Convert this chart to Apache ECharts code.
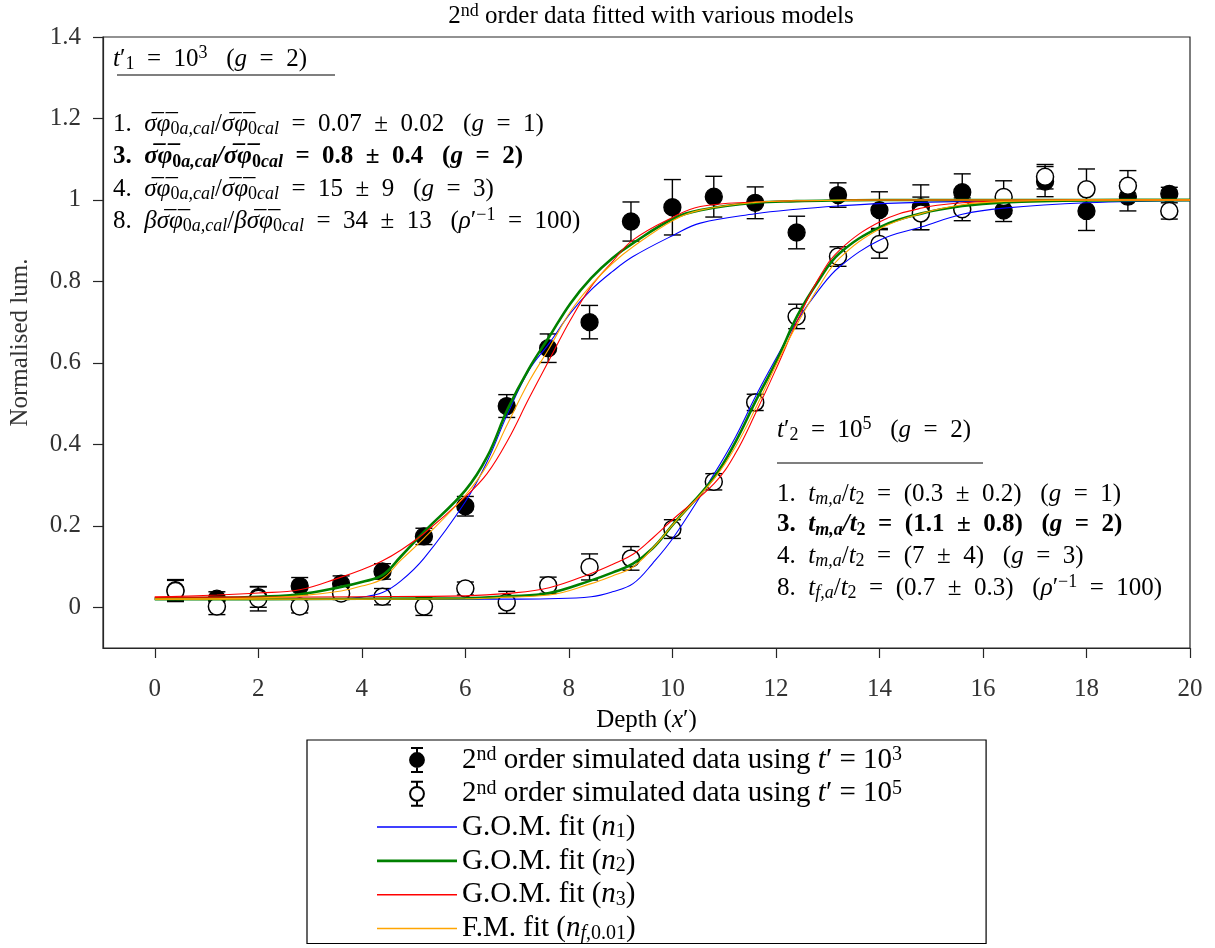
<!DOCTYPE html>
<html><head><meta charset="utf-8">
<script src="https://cdn.jsdelivr.net/npm/echarts@6/dist/echarts.min.js"></script>
<style>html,body{margin:0;padding:0;background:#fff}#c{width:1215px;height:948px}</style>
</head><body><div id="c"></div>
<script>
// ---------------- data ----------------
const depthX = [0.4,1.2,2.0,2.8,3.6,4.4,5.2,6.0,6.8,7.6,8.4,9.2,10.0,10.8,11.6,12.4,13.2,14.0,14.8,15.6,16.4,17.2,18.0,18.8,19.6];
const lum1 = [0.042,0.021,0.025,0.052,0.058,0.088,0.174,0.248,0.494,0.636,0.700,0.947,0.982,1.008,0.993,0.920,1.012,0.975,0.982,1.019,0.974,1.045,0.973,1.008,1.015];
const err1 = [0.026,0.017,0.025,0.021,0.019,0.019,0.020,0.024,0.028,0.035,0.041,0.048,0.068,0.050,0.039,0.040,0.030,0.045,0.055,0.045,0.027,0.037,0.048,0.035,0.016];
const lum2 = [0.040,0.002,0.021,0.002,0.034,0.026,0.002,0.046,0.012,0.054,0.099,0.120,0.192,0.308,0.503,0.714,0.861,0.892,0.967,0.977,1.007,1.057,1.026,1.035,0.973];
const err2 = [0.026,0.020,0.030,0.016,0.015,0.020,0.022,0.016,0.027,0.020,0.032,0.029,0.023,0.020,0.020,0.030,0.024,0.035,0.040,0.028,0.040,0.030,0.050,0.037,0.020];

const fitX1   = [0,1.2,2.0,2.8,3.6,4.0,4.4,4.75,5.2,6.0,6.42,6.82,7.23,7.62,8.03,8.43,8.84,9.24,10.03,10.54,11.6,12.4,13.2,14.0,16.0,18.0,20.0];
const blue1   = [0.020,0.020,0.020,0.020,0.021,0.025,0.036,0.064,0.120,0.259,0.357,0.476,0.582,0.648,0.722,0.779,0.824,0.861,0.914,0.943,0.966,0.977,0.985,0.991,0.997,0.999,1.000];
const green1  = [0.022,0.023,0.026,0.032,0.050,0.062,0.079,0.124,0.185,0.287,0.369,0.487,0.586,0.664,0.746,0.808,0.857,0.894,0.955,0.975,0.993,0.997,0.999,1.000,1.000,1.000,1.000];
const red1    = [0.025,0.030,0.035,0.043,0.074,0.092,0.114,0.140,0.181,0.271,0.328,0.410,0.513,0.607,0.705,0.787,0.848,0.902,0.959,0.984,0.995,0.998,0.999,1.000,1.000,1.000,1.000];
const orange1 = [0.020,0.021,0.023,0.028,0.040,0.052,0.070,0.115,0.169,0.275,0.349,0.451,0.554,0.636,0.726,0.791,0.844,0.885,0.951,0.975,0.994,0.998,0.999,1.000,1.000,1.000,1.000];

const fitX2   = [0,2.0,4.0,6.0,6.82,7.62,8.43,8.84,9.24,9.62,10.03,10.81,11.22,11.62,12.02,12.42,12.83,13.23,14.02,14.82,15.6,16.4,18.0,20.0];
const blue2   = [0.020,0.020,0.020,0.020,0.020,0.021,0.026,0.038,0.058,0.108,0.173,0.328,0.418,0.521,0.615,0.705,0.779,0.836,0.902,0.934,0.965,0.980,0.993,0.998];
const green2  = [0.020,0.020,0.021,0.022,0.027,0.035,0.066,0.085,0.107,0.145,0.206,0.320,0.406,0.509,0.607,0.717,0.803,0.869,0.934,0.967,0.985,0.994,0.999,1.000];
const red2    = [0.025,0.025,0.026,0.028,0.034,0.048,0.083,0.105,0.130,0.170,0.218,0.304,0.378,0.480,0.590,0.705,0.808,0.877,0.947,0.980,0.993,0.997,1.000,1.000];
const orange2 = [0.020,0.020,0.020,0.021,0.025,0.030,0.058,0.077,0.099,0.145,0.206,0.316,0.394,0.492,0.599,0.697,0.787,0.857,0.930,0.967,0.988,0.996,1.000,1.000];

const xTicks = [0,2,4,6,8,10,12,14,16,18,20];
const yTicks = [0,0.2,0.4,0.6,0.8,1,1.2,1.4];

const seriesNames = [
  '2nd order simulated data using t\' = 10^3',
  '2nd order simulated data using t\' = 10^5',
  'G.O.M. fit (n1)','G.O.M. fit (n2)','G.O.M. fit (n3)','F.M. fit (nf,0.01)'
];
const E = '\u2002';           // en space for math spacing
const EQ = E+'='+E, PM = E+'±'+E;
const legendRich = [
  '{r|2}{p|nd}{r| order simulated data using }{i|t}{r|′ = 10}{p|3}',
  '{r|2}{p|nd}{r| order simulated data using }{i|t}{r|′ = 10}{p|5}',
  '{r|G.O.M. fit (}{i|n}{s|1}{r|)}',
  '{r|G.O.M. fit (}{i|n}{s|2}{r|)}',
  '{r|G.O.M. fit (}{i|n}{s|3}{r|)}',
  '{r|F.M. fit (}{i|n}{si|f}{s|,0.01}{r|)}'
];

// ---------------- styles ----------------
const F = "'Liberation Serif', 'DejaVu Serif', serif";
function richSet(size, lh){
  const sub = Math.round(size*0.7);
  const L = lh || size+4;
  const base = {fontFamily:F, color:'#000', fontWeight:'normal'};
  const mk = (o)=>Object.assign({}, base, o);
  return {
    r:mk({fontSize:size,lineHeight:L}),
    i:mk({fontSize:size,lineHeight:L,fontStyle:'italic'}),
    s:mk({fontSize:sub,lineHeight:sub,verticalAlign:'bottom'}),
    si:mk({fontSize:sub,lineHeight:sub,verticalAlign:'bottom',fontStyle:'italic'}),
    p:mk({fontSize:sub,lineHeight:sub,verticalAlign:'top'}),
    rb:mk({fontSize:size,lineHeight:L,fontWeight:'bold'}),
    ib:mk({fontSize:size,lineHeight:L,fontWeight:'bold',fontStyle:'italic'}),
    sb:mk({fontSize:sub,lineHeight:sub,verticalAlign:'bottom',fontWeight:'bold'}),
    sib:mk({fontSize:sub,lineHeight:sub,verticalAlign:'bottom',fontWeight:'bold',fontStyle:'italic'})
  };
}
const R = richSet(25);
const O = '\u0305';
const sf = 'σ'+O+'φ'+O;
const G = E+' ';

const leftLines = [
  '{i|t}{r|′}{s|1}{r|'+EQ+'10}{p|3}{r|'+G+'(}{i|g}{r|'+EQ+'2)}',
  '{r|1.  }{i|'+sf+'}{s|0}{si|a,cal}{r|/}{i|'+sf+'}{s|0}{si|cal}{r|'+EQ+'0.07'+PM+'0.02'+G+'(}{i|g}{r|'+EQ+'1)}',
  '{rb|3.  }{ib|'+sf+'}{sb|0}{sib|a,cal}{ib|/}{ib|'+sf+'}{sb|0}{sib|cal}{rb|'+EQ+'0.8'+PM+'0.4'+G+'(}{ib|g}{rb|'+EQ+'2)}',
  '{r|4.  }{i|'+sf+'}{s|0}{si|a,cal}{r|/}{i|'+sf+'}{s|0}{si|cal}{r|'+EQ+'15'+PM+'9'+G+'(}{i|g}{r|'+EQ+'3)}',
  '{r|8.  }{i|β'+sf+'}{s|0}{si|a,cal}{r|/}{i|β'+sf+'}{s|0}{si|cal}{r|'+EQ+'34'+PM+'13'+G+'(}{i|ρ}{r|′}{p|−1}{r|'+EQ+'100)}'
];
const rightLines = [
  '{i|t}{r|′}{s|2}{r|'+EQ+'10}{p|5}{r|'+G+'(}{i|g}{r|'+EQ+'2)}',
  '{r|1.  }{i|t}{si|m,a}{r|/}{i|t}{s|2}{r|'+EQ+'(0.3'+PM+'0.2)'+G+'(}{i|g}{r|'+EQ+'1)}',
  '{rb|3.  }{ib|t}{sib|m,a}{ib|/t}{sb|2}{rb|'+EQ+'(1.1'+PM+'0.8)'+G+'(}{ib|g}{rb|'+EQ+'2)}',
  '{r|4.  }{i|t}{si|m,a}{r|/}{i|t}{s|2}{r|'+EQ+'(7'+PM+'4)'+G+'(}{i|g}{r|'+EQ+'3)}',
  '{r|8.  }{i|t}{si|f,a}{r|/}{i|t}{s|2}{r|'+EQ+'(0.7'+PM+'0.3)'+G+'(}{i|ρ}{r|′}{p|−1}{r|'+EQ+'100)}'
];

const chart = echarts.init(document.getElementById('c'));
const pairs = (xs, ys) => xs.map((x,i)=>[x, ys[i]]);
const errData = (ys, es) => depthX.map((x,i)=>[x, ys[i], es[i]]);

function errRender(params, api){
  const x = api.value(0), y = api.value(1), e = api.value(2);
  const t = api.coord([x, y+e]), b = api.coord([x, y-e]);
  const w = 8.5;
  const st = {stroke:'#000', lineWidth:1.4};
  return {type:'group', children:[
    {type:'line', shape:{x1:t[0],y1:t[1],x2:b[0],y2:b[1]}, style:st},
    {type:'line', shape:{x1:t[0]-w,y1:t[1],x2:t[0]+w,y2:t[1]}, style:st},
    {type:'line', shape:{x1:b[0]-w,y1:b[1],x2:b[0]+w,y2:b[1]}, style:st}
  ]};
}

const markerIcon = 'path://M1.5,1H14.5M8,1V6.5M8,21.5V27M1.5,27H14.5M15.5,14A7.5,7.5,0,1,1,0.5,14A7.5,7.5,0,1,1,15.5,14Z';

const fitColors = ['#0000ff','#008000','#ff0000','#ffa500'];
const fitWidths = [1.1,2.6,1.1,1.1];
const legendLineH = [1.5,2.8,1.5,1.5];
const fit1 = [blue1, green1, red1, orange1];
const fit2 = [blue2, green2, red2, orange2];

const series = [
  {type:'custom', name:'err1', renderItem:errRender, data:errData(lum1, err1), z:2, silent:true, encode:{x:0,y:1}},
  {type:'scatter', name:seriesNames[0], data:pairs(depthX, lum1), symbol:'circle', symbolSize:17,
   itemStyle:{color:'#000', borderColor:'#000', borderWidth:1.3, opacity:1}, z:3},
  {type:'custom', name:'err2', renderItem:errRender, data:errData(lum2, err2), z:4, silent:true, encode:{x:0,y:1}},
  {type:'scatter', name:seriesNames[1], data:pairs(depthX, lum2), symbol:'circle', symbolSize:17,
   itemStyle:{color:'#fff', borderColor:'#000', borderWidth:1.5, opacity:1}, z:5}
];
for (let k=0;k<4;k++){
  [[fitX1, fit1[k]], [fitX2, fit2[k]]].forEach(([xs, ys])=>{
    series.push({type:'line', name:seriesNames[2+k], data:pairs(xs, ys), showSymbol:false, symbol:'none',
      smooth:0.4, lineStyle:{color:fitColors[k], width:fitWidths[k]},
      itemStyle:{color:fitColors[k]}, z:6+k, silent:true});
  });
}

const graphics = [];
leftLines.forEach((t,i)=>{
  const ys = [59,124,157,189,221];
  graphics.push({type:'text', x:113, y:ys[i], style:{text:t, rich:R, verticalAlign:'middle', align:'left'}});
});
rightLines.forEach((t,i)=>{
  const ys = [430,494,525,556,588];
  graphics.push({type:'text', x:777, y:ys[i], style:{text:t, rich:R, verticalAlign:'middle', align:'left'}});
});
graphics.push({type:'line', shape:{x1:117,y1:75,x2:335,y2:75}, style:{stroke:'#000', lineWidth:1.1}});
graphics.push({type:'line', shape:{x1:777,y1:463,x2:983,y2:463}, style:{stroke:'#000', lineWidth:1.1}});

const axisColor = '#262626';
const lineIcon = (h)=>'path://M0,0H80V'+h+'H0Z';
chart.setOption({
  animation:false,
  backgroundColor:'#fff',
  title:{text:'{r|2}{p|nd}{r| order data fitted with various models}', left:646, top:-3, textAlign:'center',
    textStyle:{rich:richSet(25), fontWeight:'normal'}},
  grid:{left:103, right:25, top:37, bottom:300, show:true, borderColor:axisColor, borderWidth:1.2,
    containLabel:false, outerBoundsMode:'none'},
  legend:{
    orient:'vertical', left:307, top:740, itemWidth:80, itemHeight:24, itemGap:4.3,
    padding:[5,84,0,70], borderColor:'#000', borderWidth:1.2, backgroundColor:'#fff',
    data:seriesNames.map((n,i)=> i<2 ? {name:n, icon:markerIcon}
       : {name:n, icon:lineIcon(legendLineH[i-2]), itemStyle:{color:fitColors[i-2], borderWidth:0}}),
    formatter:(name)=>legendRich[seriesNames.indexOf(name)],
    textStyle:{rich:richSet(29,30), fontFamily:F, fontSize:29},
    selectedMode:false
  },
  xAxis:{type:'value', min:-1, max:20,
    name:'{r|Depth (}{i|x}{r|′)}', nameLocation:'middle', nameGap:58,
    nameTextStyle:{rich:richSet(25)},
    axisLine:{show:true, onZero:false, lineStyle:{color:axisColor, width:1.2}},
    axisTick:{show:true, inside:false, length:10, customValues:xTicks, lineStyle:{color:axisColor, width:1.2}},
    axisLabel:{show:true, customValues:xTicks, margin:29, fontFamily:F, fontSize:25, color:'#333'},
    splitLine:{show:false}},
  yAxis:{type:'value', min:-0.1, max:1.4,
    name:'Normalised lum.', nameLocation:'middle', nameGap:70,
    nameTextStyle:{fontFamily:F, fontSize:25, color:'#333'},
    axisLine:{show:true, onZero:false, lineStyle:{color:axisColor, width:1.2}},
    axisTick:{show:true, inside:false, length:10, customValues:yTicks, lineStyle:{color:axisColor, width:1.2}},
    axisLabel:{show:true, customValues:yTicks, margin:22, fontFamily:F, fontSize:25, color:'#333'},
    splitLine:{show:false}},
  series:series,
  graphic:graphics
});
</script></body></html>
